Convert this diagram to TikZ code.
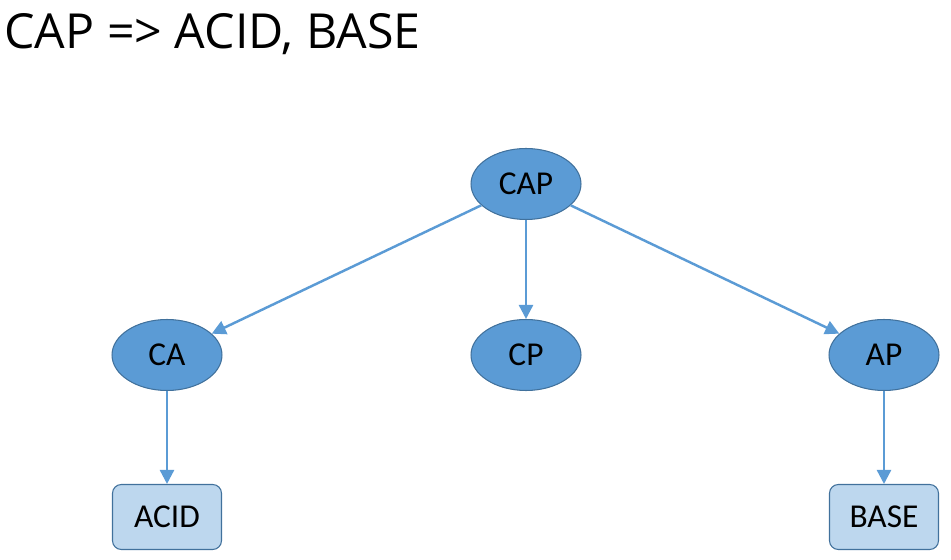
\documentclass[tikz,border=0pt]{standalone}
\usepackage{fontspec}
\setmainfont{Carlito}
\newfontfamily\titlefont{Open Sans}
\usetikzlibrary{shapes.geometric,arrows.meta}

\definecolor{darkfill}{HTML}{5B9BD5}
\definecolor{lightfill}{HTML}{BDD7EE}
\definecolor{rimline}{HTML}{41719C}

\tikzset{
  bubble/.style={ellipse, draw=rimline, fill=darkfill, line width=0.6pt,
    minimum width=2.2cm, minimum height=1.42cm, inner sep=0pt,
    font=\fontsize{19}{22}\selectfont},
  leaf/.style={rectangle, rounded corners=5pt, draw=rimline, fill=lightfill,
    line width=0.6pt, minimum width=2.18cm, minimum height=1.3cm, inner sep=0pt,
    font=\fontsize{19}{22}\selectfont},
  link/.style={draw=darkfill, line width=1.4pt, -{Triangle[length=8pt,width=8pt]}}
}

\begin{document}
\begin{tikzpicture}[x=0.02cm,y=-0.02cm]
  \useasboundingbox (0,0) rectangle (951,560);

  % Title
  \node[anchor=base west, inner sep=0pt, font=\titlefont\fontsize{27.5}{33}\selectfont]
    (title) at (4,49) {CAP => ACID, BASE};

  % Ellipses
  \node[bubble] (cap) at (526,184) {CAP};
  \node[bubble] (ca) at (167,355) {CA};
  \node[bubble] (cp) at (526,355) {CP};
  \node[bubble] (ap) at (884,355) {AP};

  % Results
  \node[leaf] (acid) at (167,517) {ACID};
  \node[leaf] (base) at (884,517) {BASE};

  % Arrows
  \draw[link] (cap) -- (ca);
  \draw[link] (cap) -- (cp);
  \draw[link] (cap) -- (ap);
  \draw[link] (ca) -- (acid);
  \draw[link] (ap) -- (base);
\end{tikzpicture}
\end{document}
